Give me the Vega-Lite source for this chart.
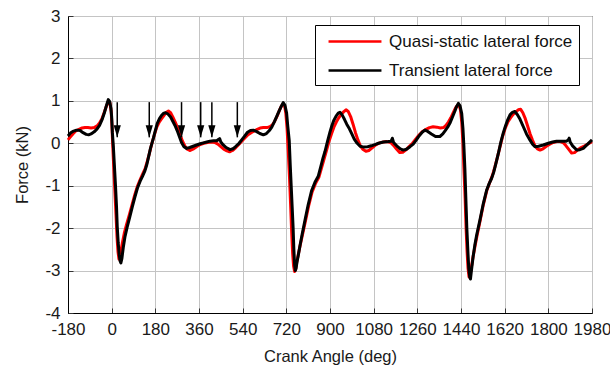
{
  "$schema": "https://vega.github.io/schema/vega-lite/v6.json",
  "width": 524,
  "height": 297,
  "autosize": "none",
  "padding": {"left": 68, "top": 16, "right": 18, "bottom": 55},
  "background": "white",
  "config": {
    "font": "Liberation Sans",
    "view": {"stroke": "black", "strokeWidth": 1},
    "axis": {
      "domainColor": "black",
      "gridColor": "#c4c4c4",
      "gridWidth": 1,
      "tickColor": "#333",
      "labelFont": "Liberation Sans",
      "titleFont": "Liberation Sans",
      "labelFontSize": 17,
      "titleFontSize": 16.5,
      "labelColor": "#1a1a1a",
      "titleColor": "#1a1a1a",
      "titleFontWeight": "normal"
    }
  },
  "datasets": {
    "arrows": [
      {"a": 23, "top": 0.97, "tip": 0.14},
      {"a": 155, "top": 0.97, "tip": 0.14},
      {"a": 288, "top": 0.97, "tip": 0.14},
      {"a": 367, "top": 0.97, "tip": 0.14},
      {"a": 413, "top": 0.97, "tip": 0.14},
      {"a": 518, "top": 0.97, "tip": 0.14}
    ]
  },
  "layer": [
    {
      "data": {"values": [
{"s":"Quasi-static lateral force","a":-180,"f":0.08},{"s":"Quasi-static lateral force","a":-170,"f":0.15},{"s":"Quasi-static lateral force","a":-160,"f":0.22},{"s":"Quasi-static lateral force","a":-148,"f":0.29},{"s":"Quasi-static lateral force","a":-135,"f":0.33},{"s":"Quasi-static lateral force","a":-122,"f":0.36},{"s":"Quasi-static lateral force","a":-110,"f":0.37},{"s":"Quasi-static lateral force","a":-98,"f":0.37},{"s":"Quasi-static lateral force","a":-85,"f":0.36},{"s":"Quasi-static lateral force","a":-72,"f":0.37},{"s":"Quasi-static lateral force","a":-60,"f":0.41},{"s":"Quasi-static lateral force","a":-50,"f":0.48},{"s":"Quasi-static lateral force","a":-40,"f":0.58},{"s":"Quasi-static lateral force","a":-30,"f":0.74},{"s":"Quasi-static lateral force","a":-20,"f":0.9},{"s":"Quasi-static lateral force","a":-13,"f":0.99},{"s":"Quasi-static lateral force","a":-7,"f":0.95},{"s":"Quasi-static lateral force","a":-2,"f":0.75},{"s":"Quasi-static lateral force","a":1,"f":0.45},{"s":"Quasi-static lateral force","a":4,"f":0.0},{"s":"Quasi-static lateral force","a":8,"f":-0.5},{"s":"Quasi-static lateral force","a":13,"f":-1.1},{"s":"Quasi-static lateral force","a":18,"f":-1.7},{"s":"Quasi-static lateral force","a":22,"f":-2.2},{"s":"Quasi-static lateral force","a":26,"f":-2.55},{"s":"Quasi-static lateral force","a":30,"f":-2.73},{"s":"Quasi-static lateral force","a":34,"f":-2.7},{"s":"Quasi-static lateral force","a":38,"f":-2.55},{"s":"Quasi-static lateral force","a":44,"f":-2.35},{"s":"Quasi-static lateral force","a":52,"f":-2.12},{"s":"Quasi-static lateral force","a":62,"f":-1.9},{"s":"Quasi-static lateral force","a":73,"f":-1.68},{"s":"Quasi-static lateral force","a":85,"f":-1.43},{"s":"Quasi-static lateral force","a":96,"f":-1.2},{"s":"Quasi-static lateral force","a":107,"f":-1.0},{"s":"Quasi-static lateral force","a":118,"f":-0.85},{"s":"Quasi-static lateral force","a":128,"f":-0.72},{"s":"Quasi-static lateral force","a":138,"f":-0.6},{"s":"Quasi-static lateral force","a":147,"f":-0.42},{"s":"Quasi-static lateral force","a":155,"f":-0.25},{"s":"Quasi-static lateral force","a":165,"f":-0.02},{"s":"Quasi-static lateral force","a":176,"f":0.2},{"s":"Quasi-static lateral force","a":186,"f":0.38},{"s":"Quasi-static lateral force","a":196,"f":0.5},{"s":"Quasi-static lateral force","a":206,"f":0.58},{"s":"Quasi-static lateral force","a":216,"f":0.66},{"s":"Quasi-static lateral force","a":226,"f":0.73},{"s":"Quasi-static lateral force","a":234,"f":0.76},{"s":"Quasi-static lateral force","a":243,"f":0.72},{"s":"Quasi-static lateral force","a":252,"f":0.62},{"s":"Quasi-static lateral force","a":262,"f":0.5},{"s":"Quasi-static lateral force","a":272,"f":0.36},{"s":"Quasi-static lateral force","a":282,"f":0.2},{"s":"Quasi-static lateral force","a":292,"f":0.05},{"s":"Quasi-static lateral force","a":302,"f":-0.07},{"s":"Quasi-static lateral force","a":312,"f":-0.14},{"s":"Quasi-static lateral force","a":322,"f":-0.17},{"s":"Quasi-static lateral force","a":335,"f":-0.14},{"s":"Quasi-static lateral force","a":350,"f":-0.08},{"s":"Quasi-static lateral force","a":365,"f":-0.03},{"s":"Quasi-static lateral force","a":380,"f":0.0},{"s":"Quasi-static lateral force","a":395,"f":0.02},{"s":"Quasi-static lateral force","a":410,"f":0.03},{"s":"Quasi-static lateral force","a":425,"f":0.02},{"s":"Quasi-static lateral force","a":438,"f":-0.02},{"s":"Quasi-static lateral force","a":450,"f":-0.08},{"s":"Quasi-static lateral force","a":462,"f":-0.14},{"s":"Quasi-static lateral force","a":475,"f":-0.18},{"s":"Quasi-static lateral force","a":486,"f":-0.2},{"s":"Quasi-static lateral force","a":498,"f":-0.17},{"s":"Quasi-static lateral force","a":512,"f":-0.1},{"s":"Quasi-static lateral force","a":525,"f":-0.02},{"s":"Quasi-static lateral force","a":538,"f":0.06},{"s":"Quasi-static lateral force","a":550,"f":0.13},{"s":"Quasi-static lateral force","a":562,"f":0.2},{"s":"Quasi-static lateral force","a":575,"f":0.25},{"s":"Quasi-static lateral force","a":588,"f":0.29},{"s":"Quasi-static lateral force","a":600,"f":0.33},{"s":"Quasi-static lateral force","a":612,"f":0.36},{"s":"Quasi-static lateral force","a":625,"f":0.37},{"s":"Quasi-static lateral force","a":640,"f":0.37},{"s":"Quasi-static lateral force","a":652,"f":0.39},{"s":"Quasi-static lateral force","a":662,"f":0.43},{"s":"Quasi-static lateral force","a":672,"f":0.52},{"s":"Quasi-static lateral force","a":682,"f":0.64},{"s":"Quasi-static lateral force","a":692,"f":0.78},{"s":"Quasi-static lateral force","a":700,"f":0.88},{"s":"Quasi-static lateral force","a":707,"f":0.93},{"s":"Quasi-static lateral force","a":713,"f":0.88},{"s":"Quasi-static lateral force","a":718,"f":0.7},{"s":"Quasi-static lateral force","a":723,"f":0.35},{"s":"Quasi-static lateral force","a":728,"f":-0.2},{"s":"Quasi-static lateral force","a":733,"f":-0.8},{"s":"Quasi-static lateral force","a":738,"f":-1.5},{"s":"Quasi-static lateral force","a":742,"f":-2.1},{"s":"Quasi-static lateral force","a":746,"f":-2.6},{"s":"Quasi-static lateral force","a":750,"f":-2.9},{"s":"Quasi-static lateral force","a":754,"f":-3.02},{"s":"Quasi-static lateral force","a":758,"f":-2.98},{"s":"Quasi-static lateral force","a":763,"f":-2.8},{"s":"Quasi-static lateral force","a":770,"f":-2.6},{"s":"Quasi-static lateral force","a":778,"f":-2.38},{"s":"Quasi-static lateral force","a":788,"f":-2.12},{"s":"Quasi-static lateral force","a":800,"f":-1.8},{"s":"Quasi-static lateral force","a":813,"f":-1.45},{"s":"Quasi-static lateral force","a":826,"f":-1.15},{"s":"Quasi-static lateral force","a":840,"f":-0.95},{"s":"Quasi-static lateral force","a":854,"f":-0.8},{"s":"Quasi-static lateral force","a":864,"f":-0.6},{"s":"Quasi-static lateral force","a":874,"f":-0.4},{"s":"Quasi-static lateral force","a":884,"f":-0.2},{"s":"Quasi-static lateral force","a":895,"f":0.03},{"s":"Quasi-static lateral force","a":906,"f":0.22},{"s":"Quasi-static lateral force","a":916,"f":0.38},{"s":"Quasi-static lateral force","a":926,"f":0.5},{"s":"Quasi-static lateral force","a":936,"f":0.6},{"s":"Quasi-static lateral force","a":946,"f":0.68},{"s":"Quasi-static lateral force","a":956,"f":0.74},{"s":"Quasi-static lateral force","a":966,"f":0.79},{"s":"Quasi-static lateral force","a":975,"f":0.75},{"s":"Quasi-static lateral force","a":985,"f":0.63},{"s":"Quasi-static lateral force","a":995,"f":0.45},{"s":"Quasi-static lateral force","a":1005,"f":0.25},{"s":"Quasi-static lateral force","a":1015,"f":0.08},{"s":"Quasi-static lateral force","a":1025,"f":-0.06},{"s":"Quasi-static lateral force","a":1035,"f":-0.14},{"s":"Quasi-static lateral force","a":1048,"f":-0.19},{"s":"Quasi-static lateral force","a":1060,"f":-0.17},{"s":"Quasi-static lateral force","a":1075,"f":-0.1},{"s":"Quasi-static lateral force","a":1090,"f":-0.03},{"s":"Quasi-static lateral force","a":1105,"f":0.01},{"s":"Quasi-static lateral force","a":1120,"f":0.03},{"s":"Quasi-static lateral force","a":1135,"f":0.04},{"s":"Quasi-static lateral force","a":1150,"f":0.02},{"s":"Quasi-static lateral force","a":1162,"f":-0.05},{"s":"Quasi-static lateral force","a":1175,"f":-0.14},{"s":"Quasi-static lateral force","a":1188,"f":-0.22},{"s":"Quasi-static lateral force","a":1200,"f":-0.21},{"s":"Quasi-static lateral force","a":1212,"f":-0.16},{"s":"Quasi-static lateral force","a":1226,"f":-0.08},{"s":"Quasi-static lateral force","a":1240,"f":0.0},{"s":"Quasi-static lateral force","a":1254,"f":0.1},{"s":"Quasi-static lateral force","a":1268,"f":0.2},{"s":"Quasi-static lateral force","a":1282,"f":0.28},{"s":"Quasi-static lateral force","a":1296,"f":0.33},{"s":"Quasi-static lateral force","a":1310,"f":0.37},{"s":"Quasi-static lateral force","a":1325,"f":0.39},{"s":"Quasi-static lateral force","a":1340,"f":0.38},{"s":"Quasi-static lateral force","a":1355,"f":0.36},{"s":"Quasi-static lateral force","a":1368,"f":0.37},{"s":"Quasi-static lateral force","a":1378,"f":0.42},{"s":"Quasi-static lateral force","a":1388,"f":0.5},{"s":"Quasi-static lateral force","a":1398,"f":0.6},{"s":"Quasi-static lateral force","a":1408,"f":0.72},{"s":"Quasi-static lateral force","a":1418,"f":0.84},{"s":"Quasi-static lateral force","a":1426,"f":0.9},{"s":"Quasi-static lateral force","a":1432,"f":0.9},{"s":"Quasi-static lateral force","a":1438,"f":0.78},{"s":"Quasi-static lateral force","a":1443,"f":0.5},{"s":"Quasi-static lateral force","a":1448,"f":0.0},{"s":"Quasi-static lateral force","a":1452,"f":-0.6},{"s":"Quasi-static lateral force","a":1457,"f":-1.3},{"s":"Quasi-static lateral force","a":1461,"f":-2.0},{"s":"Quasi-static lateral force","a":1465,"f":-2.55},{"s":"Quasi-static lateral force","a":1469,"f":-2.95},{"s":"Quasi-static lateral force","a":1473,"f":-3.15},{"s":"Quasi-static lateral force","a":1477,"f":-3.12},{"s":"Quasi-static lateral force","a":1482,"f":-2.95},{"s":"Quasi-static lateral force","a":1489,"f":-2.7},{"s":"Quasi-static lateral force","a":1497,"f":-2.45},{"s":"Quasi-static lateral force","a":1506,"f":-2.18},{"s":"Quasi-static lateral force","a":1518,"f":-1.85},{"s":"Quasi-static lateral force","a":1532,"f":-1.45},{"s":"Quasi-static lateral force","a":1546,"f":-1.12},{"s":"Quasi-static lateral force","a":1558,"f":-0.93},{"s":"Quasi-static lateral force","a":1570,"f":-0.75},{"s":"Quasi-static lateral force","a":1580,"f":-0.55},{"s":"Quasi-static lateral force","a":1590,"f":-0.33},{"s":"Quasi-static lateral force","a":1600,"f":-0.1},{"s":"Quasi-static lateral force","a":1611,"f":0.15},{"s":"Quasi-static lateral force","a":1622,"f":0.35},{"s":"Quasi-static lateral force","a":1633,"f":0.5},{"s":"Quasi-static lateral force","a":1644,"f":0.6},{"s":"Quasi-static lateral force","a":1655,"f":0.68},{"s":"Quasi-static lateral force","a":1666,"f":0.74},{"s":"Quasi-static lateral force","a":1676,"f":0.79},{"s":"Quasi-static lateral force","a":1686,"f":0.8},{"s":"Quasi-static lateral force","a":1695,"f":0.72},{"s":"Quasi-static lateral force","a":1705,"f":0.58},{"s":"Quasi-static lateral force","a":1715,"f":0.4},{"s":"Quasi-static lateral force","a":1725,"f":0.22},{"s":"Quasi-static lateral force","a":1735,"f":0.07},{"s":"Quasi-static lateral force","a":1745,"f":-0.06},{"s":"Quasi-static lateral force","a":1755,"f":-0.13},{"s":"Quasi-static lateral force","a":1766,"f":-0.16},{"s":"Quasi-static lateral force","a":1778,"f":-0.13},{"s":"Quasi-static lateral force","a":1792,"f":-0.07},{"s":"Quasi-static lateral force","a":1806,"f":-0.02},{"s":"Quasi-static lateral force","a":1820,"f":0.02},{"s":"Quasi-static lateral force","a":1835,"f":0.04},{"s":"Quasi-static lateral force","a":1850,"f":0.04},{"s":"Quasi-static lateral force","a":1862,"f":0.01},{"s":"Quasi-static lateral force","a":1873,"f":-0.06},{"s":"Quasi-static lateral force","a":1885,"f":-0.15},{"s":"Quasi-static lateral force","a":1896,"f":-0.23},{"s":"Quasi-static lateral force","a":1908,"f":-0.22},{"s":"Quasi-static lateral force","a":1920,"f":-0.16},{"s":"Quasi-static lateral force","a":1935,"f":-0.1},{"s":"Quasi-static lateral force","a":1950,"f":-0.06},{"s":"Quasi-static lateral force","a":1965,"f":-0.01},{"s":"Quasi-static lateral force","a":1980,"f":0.04},
{"s":"Transient lateral force","a":-180,"f":0.17},{"s":"Transient lateral force","a":-170,"f":0.24},{"s":"Transient lateral force","a":-160,"f":0.28},{"s":"Transient lateral force","a":-145,"f":0.31},{"s":"Transient lateral force","a":-130,"f":0.3},{"s":"Transient lateral force","a":-118,"f":0.25},{"s":"Transient lateral force","a":-105,"f":0.21},{"s":"Transient lateral force","a":-95,"f":0.2},{"s":"Transient lateral force","a":-85,"f":0.22},{"s":"Transient lateral force","a":-72,"f":0.27},{"s":"Transient lateral force","a":-60,"f":0.34},{"s":"Transient lateral force","a":-50,"f":0.42},{"s":"Transient lateral force","a":-40,"f":0.55},{"s":"Transient lateral force","a":-30,"f":0.72},{"s":"Transient lateral force","a":-22,"f":0.88},{"s":"Transient lateral force","a":-14,"f":1.03},{"s":"Transient lateral force","a":-8,"f":0.98},{"s":"Transient lateral force","a":-3,"f":0.82},{"s":"Transient lateral force","a":0,"f":0.62},{"s":"Transient lateral force","a":3,"f":0.25},{"s":"Transient lateral force","a":7,"f":-0.08},{"s":"Transient lateral force","a":11,"f":-0.5},{"s":"Transient lateral force","a":16,"f":-1.02},{"s":"Transient lateral force","a":20,"f":-1.5},{"s":"Transient lateral force","a":23,"f":-1.97},{"s":"Transient lateral force","a":27,"f":-2.35},{"s":"Transient lateral force","a":31,"f":-2.62},{"s":"Transient lateral force","a":35,"f":-2.78},{"s":"Transient lateral force","a":38,"f":-2.82},{"s":"Transient lateral force","a":42,"f":-2.72},{"s":"Transient lateral force","a":48,"f":-2.45},{"s":"Transient lateral force","a":55,"f":-2.2},{"s":"Transient lateral force","a":65,"f":-1.95},{"s":"Transient lateral force","a":75,"f":-1.73},{"s":"Transient lateral force","a":85,"f":-1.5},{"s":"Transient lateral force","a":96,"f":-1.26},{"s":"Transient lateral force","a":106,"f":-1.06},{"s":"Transient lateral force","a":117,"f":-0.9},{"s":"Transient lateral force","a":127,"f":-0.78},{"s":"Transient lateral force","a":137,"f":-0.65},{"s":"Transient lateral force","a":145,"f":-0.5},{"s":"Transient lateral force","a":151,"f":-0.35},{"s":"Transient lateral force","a":160,"f":-0.12},{"s":"Transient lateral force","a":172,"f":0.12},{"s":"Transient lateral force","a":180,"f":0.3},{"s":"Transient lateral force","a":188,"f":0.47},{"s":"Transient lateral force","a":197,"f":0.58},{"s":"Transient lateral force","a":206,"f":0.66},{"s":"Transient lateral force","a":215,"f":0.71},{"s":"Transient lateral force","a":222,"f":0.72},{"s":"Transient lateral force","a":232,"f":0.69},{"s":"Transient lateral force","a":243,"f":0.62},{"s":"Transient lateral force","a":252,"f":0.52},{"s":"Transient lateral force","a":261,"f":0.42},{"s":"Transient lateral force","a":270,"f":0.3},{"s":"Transient lateral force","a":279,"f":0.16},{"s":"Transient lateral force","a":288,"f":0.02},{"s":"Transient lateral force","a":298,"f":-0.08},{"s":"Transient lateral force","a":309,"f":-0.12},{"s":"Transient lateral force","a":322,"f":-0.1},{"s":"Transient lateral force","a":336,"f":-0.07},{"s":"Transient lateral force","a":350,"f":-0.04},{"s":"Transient lateral force","a":365,"f":-0.01},{"s":"Transient lateral force","a":378,"f":0.01},{"s":"Transient lateral force","a":392,"f":0.03},{"s":"Transient lateral force","a":405,"f":0.05},{"s":"Transient lateral force","a":420,"f":0.06},{"s":"Transient lateral force","a":433,"f":0.06},{"s":"Transient lateral force","a":440,"f":0.09},{"s":"Transient lateral force","a":445,"f":0.11},{"s":"Transient lateral force","a":450,"f":0.03},{"s":"Transient lateral force","a":460,"f":-0.04},{"s":"Transient lateral force","a":472,"f":-0.1},{"s":"Transient lateral force","a":488,"f":-0.15},{"s":"Transient lateral force","a":500,"f":-0.13},{"s":"Transient lateral force","a":512,"f":-0.07},{"s":"Transient lateral force","a":525,"f":0.0},{"s":"Transient lateral force","a":536,"f":0.08},{"s":"Transient lateral force","a":548,"f":0.17},{"s":"Transient lateral force","a":560,"f":0.26},{"s":"Transient lateral force","a":572,"f":0.3},{"s":"Transient lateral force","a":584,"f":0.31},{"s":"Transient lateral force","a":596,"f":0.28},{"s":"Transient lateral force","a":611,"f":0.23},{"s":"Transient lateral force","a":625,"f":0.2},{"s":"Transient lateral force","a":638,"f":0.23},{"s":"Transient lateral force","a":650,"f":0.3},{"s":"Transient lateral force","a":660,"f":0.38},{"s":"Transient lateral force","a":670,"f":0.5},{"s":"Transient lateral force","a":680,"f":0.63},{"s":"Transient lateral force","a":690,"f":0.76},{"s":"Transient lateral force","a":700,"f":0.88},{"s":"Transient lateral force","a":707,"f":0.96},{"s":"Transient lateral force","a":714,"f":0.9},{"s":"Transient lateral force","a":721,"f":0.72},{"s":"Transient lateral force","a":726,"f":0.4},{"s":"Transient lateral force","a":732,"f":0.06},{"s":"Transient lateral force","a":736,"f":-0.5},{"s":"Transient lateral force","a":740,"f":-1.0},{"s":"Transient lateral force","a":744,"f":-1.5},{"s":"Transient lateral force","a":748,"f":-2.0},{"s":"Transient lateral force","a":751,"f":-2.5},{"s":"Transient lateral force","a":754,"f":-2.85},{"s":"Transient lateral force","a":757,"f":-3.0},{"s":"Transient lateral force","a":760,"f":-2.95},{"s":"Transient lateral force","a":764,"f":-2.8},{"s":"Transient lateral force","a":769,"f":-2.65},{"s":"Transient lateral force","a":776,"f":-2.42},{"s":"Transient lateral force","a":785,"f":-2.15},{"s":"Transient lateral force","a":797,"f":-1.81},{"s":"Transient lateral force","a":810,"f":-1.45},{"s":"Transient lateral force","a":824,"f":-1.12},{"s":"Transient lateral force","a":838,"f":-0.92},{"s":"Transient lateral force","a":852,"f":-0.77},{"s":"Transient lateral force","a":862,"f":-0.55},{"s":"Transient lateral force","a":871,"f":-0.35},{"s":"Transient lateral force","a":879,"f":-0.2},{"s":"Transient lateral force","a":890,"f":0.05},{"s":"Transient lateral force","a":900,"f":0.27},{"s":"Transient lateral force","a":907,"f":0.4},{"s":"Transient lateral force","a":915,"f":0.53},{"s":"Transient lateral force","a":925,"f":0.64},{"s":"Transient lateral force","a":934,"f":0.71},{"s":"Transient lateral force","a":941,"f":0.73},{"s":"Transient lateral force","a":950,"f":0.67},{"s":"Transient lateral force","a":960,"f":0.56},{"s":"Transient lateral force","a":969,"f":0.45},{"s":"Transient lateral force","a":980,"f":0.34},{"s":"Transient lateral force","a":990,"f":0.22},{"s":"Transient lateral force","a":1000,"f":0.1},{"s":"Transient lateral force","a":1012,"f":0.0},{"s":"Transient lateral force","a":1024,"f":-0.07},{"s":"Transient lateral force","a":1040,"f":-0.09},{"s":"Transient lateral force","a":1055,"f":-0.08},{"s":"Transient lateral force","a":1070,"f":-0.06},{"s":"Transient lateral force","a":1085,"f":-0.03},{"s":"Transient lateral force","a":1100,"f":0.0},{"s":"Transient lateral force","a":1120,"f":0.03},{"s":"Transient lateral force","a":1140,"f":0.04},{"s":"Transient lateral force","a":1152,"f":0.05},{"s":"Transient lateral force","a":1157,"f":0.12},{"s":"Transient lateral force","a":1162,"f":0.02},{"s":"Transient lateral force","a":1175,"f":-0.06},{"s":"Transient lateral force","a":1190,"f":-0.13},{"s":"Transient lateral force","a":1202,"f":-0.16},{"s":"Transient lateral force","a":1215,"f":-0.14},{"s":"Transient lateral force","a":1230,"f":-0.08},{"s":"Transient lateral force","a":1243,"f":-0.02},{"s":"Transient lateral force","a":1256,"f":0.08},{"s":"Transient lateral force","a":1268,"f":0.18},{"s":"Transient lateral force","a":1280,"f":0.26},{"s":"Transient lateral force","a":1291,"f":0.31},{"s":"Transient lateral force","a":1303,"f":0.28},{"s":"Transient lateral force","a":1318,"f":0.22},{"s":"Transient lateral force","a":1335,"f":0.16},{"s":"Transient lateral force","a":1353,"f":0.16},{"s":"Transient lateral force","a":1365,"f":0.22},{"s":"Transient lateral force","a":1375,"f":0.3},{"s":"Transient lateral force","a":1385,"f":0.38},{"s":"Transient lateral force","a":1394,"f":0.47},{"s":"Transient lateral force","a":1405,"f":0.62},{"s":"Transient lateral force","a":1415,"f":0.76},{"s":"Transient lateral force","a":1422,"f":0.87},{"s":"Transient lateral force","a":1429,"f":0.94},{"s":"Transient lateral force","a":1436,"f":0.88},{"s":"Transient lateral force","a":1443,"f":0.7},{"s":"Transient lateral force","a":1448,"f":0.35},{"s":"Transient lateral force","a":1452,"f":-0.08},{"s":"Transient lateral force","a":1456,"f":-0.6},{"s":"Transient lateral force","a":1460,"f":-1.3},{"s":"Transient lateral force","a":1464,"f":-2.0},{"s":"Transient lateral force","a":1468,"f":-2.5},{"s":"Transient lateral force","a":1472,"f":-2.95},{"s":"Transient lateral force","a":1476,"f":-3.15},{"s":"Transient lateral force","a":1479,"f":-3.2},{"s":"Transient lateral force","a":1483,"f":-3.0},{"s":"Transient lateral force","a":1490,"f":-2.67},{"s":"Transient lateral force","a":1497,"f":-2.4},{"s":"Transient lateral force","a":1505,"f":-2.15},{"s":"Transient lateral force","a":1518,"f":-1.81},{"s":"Transient lateral force","a":1532,"f":-1.42},{"s":"Transient lateral force","a":1546,"f":-1.1},{"s":"Transient lateral force","a":1556,"f":-0.95},{"s":"Transient lateral force","a":1566,"f":-0.83},{"s":"Transient lateral force","a":1575,"f":-0.68},{"s":"Transient lateral force","a":1585,"f":-0.45},{"s":"Transient lateral force","a":1594,"f":-0.24},{"s":"Transient lateral force","a":1604,"f":0.02},{"s":"Transient lateral force","a":1614,"f":0.24},{"s":"Transient lateral force","a":1624,"f":0.42},{"s":"Transient lateral force","a":1633,"f":0.56},{"s":"Transient lateral force","a":1642,"f":0.67},{"s":"Transient lateral force","a":1652,"f":0.73},{"s":"Transient lateral force","a":1662,"f":0.75},{"s":"Transient lateral force","a":1672,"f":0.68},{"s":"Transient lateral force","a":1683,"f":0.57},{"s":"Transient lateral force","a":1697,"f":0.39},{"s":"Transient lateral force","a":1710,"f":0.22},{"s":"Transient lateral force","a":1724,"f":0.08},{"s":"Transient lateral force","a":1735,"f":-0.02},{"s":"Transient lateral force","a":1745,"f":-0.08},{"s":"Transient lateral force","a":1760,"f":-0.07},{"s":"Transient lateral force","a":1779,"f":-0.04},{"s":"Transient lateral force","a":1800,"f":0.0},{"s":"Transient lateral force","a":1818,"f":0.03},{"s":"Transient lateral force","a":1834,"f":0.05},{"s":"Transient lateral force","a":1855,"f":0.05},{"s":"Transient lateral force","a":1875,"f":0.05},{"s":"Transient lateral force","a":1882,"f":0.08},{"s":"Transient lateral force","a":1886,"f":0.12},{"s":"Transient lateral force","a":1890,"f":0.03},{"s":"Transient lateral force","a":1900,"f":-0.06},{"s":"Transient lateral force","a":1917,"f":-0.16},{"s":"Transient lateral force","a":1930,"f":-0.15},{"s":"Transient lateral force","a":1944,"f":-0.12},{"s":"Transient lateral force","a":1960,"f":-0.03},{"s":"Transient lateral force","a":1980,"f":0.08}
      ]},
      "mark": {"type": "line", "strokeWidth": 3, "strokeJoin": "round"},
      "encoding": {
        "x": {
          "field": "a", "type": "quantitative",
          "scale": {"domain": [-180, 1980], "nice": false, "zero": false},
          "axis": {
            "values": [-180, 0, 180, 360, 540, 720, 900, 1080, 1260, 1440, 1620, 1800, 1980],
            "labelExpr": "'' + datum.value",
            "title": "Crank Angle (deg)",
            "tickSize": -5,
            "labelPadding": 13,
            "labelFlush": false,
            "labelOverlap": false,
            "labelBound": false,
            "titlePadding": 11
          }
        },
        "y": {
          "field": "f", "type": "quantitative",
          "scale": {"domain": [-4, 3], "nice": false, "zero": false},
          "axis": {
            "values": [-4, -3, -2, -1, 0, 1, 2, 3],
            "labelExpr": "'' + datum.value",
            "title": "Force (kN)",
            "tickSize": -5,
            "labelPadding": 13,
            "labelFlush": false,
            "labelOverlap": false,
            "labelBound": false,
            "titlePadding": 14
          }
        },
        "color": {
          "field": "s", "type": "nominal",
          "scale": {"domain": ["Quasi-static lateral force", "Transient lateral force"], "range": ["#ff0000", "#000000"]},
          "legend": {
            "title": null,
            "orient": "none",
            "legendX": 247,
            "legendY": 9,
            "direction": "vertical",
            "symbolType": "M-2.94,0H2.94",
            "symbolSize": 324,
            "symbolStrokeWidth": 2.5,
            "symbolOffset": 23.5,
            "labelFontSize": 17,
            "labelFont": "Liberation Sans",
            "labelColor": "#111",
            "labelLimit": 400,
            "labelOffset": 23.5,
            "strokeColor": "black",
            "fillColor": "white",
            "padding": 6,
            "rowPadding": 10
          }
        }
      }
    },
    {
      "data": {"name": "arrows"},
      "mark": {"type": "rule", "color": "black", "strokeWidth": 1.5},
      "encoding": {
        "x": {"field": "a", "type": "quantitative"},
        "y": {"field": "top", "type": "quantitative"},
        "y2": {"field": "tip"}
      }
    },
    {
      "data": {"name": "arrows"},
      "mark": {"type": "point", "shape": "M-0.6,-2L0.6,-2L0,0Z", "filled": true, "color": "black", "size": 144, "opacity": 1},
      "encoding": {
        "x": {"field": "a", "type": "quantitative"},
        "y": {"field": "tip", "type": "quantitative"}
      }
    }
  ]
}
